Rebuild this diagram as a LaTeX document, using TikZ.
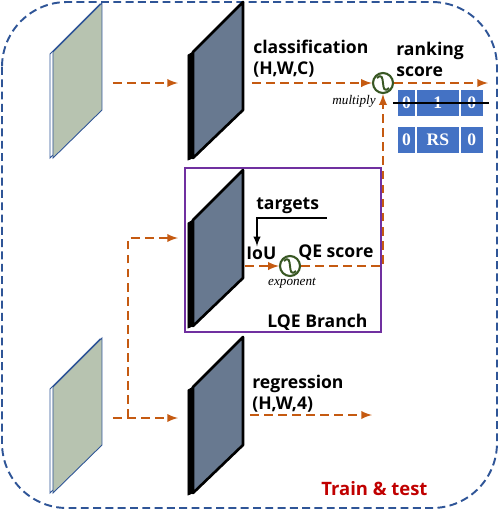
\documentclass[tikz,border=0pt]{standalone}
\usepackage{fontspec}
\setmainfont{Open Sans}
\newfontfamily\opfont{Liberation Serif}
\usetikzlibrary{arrows,positioning,calc}
\definecolor{cBorderD}{HTML}{2F5597}
\definecolor{cFlowD}{HTML}{C55A11}
\definecolor{cMapF}{HTML}{B7C3B0}
\definecolor{cFeatF}{HTML}{687990}
\definecolor{cBranchD}{HTML}{7030A0}
\definecolor{cCellF}{HTML}{4472C4}
\definecolor{cOpD}{HTML}{385723}
\definecolor{cTagT}{HTML}{C00000}
\tikzset{
  lbl/.style    = {font=\fontsize{10}{12}\selectfont\bfseries, inner sep=0pt,
                   align=left, anchor=west},
  opnote/.style = {font=\fontsize{7.5}{9}\selectfont\opfont\itshape, inner sep=0pt},
  flow/.style   = {cFlowD, line width=1.1pt, dash pattern=on 5pt off 3pt, -latex},
  border/.style = {cBorderD, line width=1.1pt, dash pattern=on 4.5pt off 2.5pt,
                   rounded corners=1.3cm},
  cell/.style   = {fill=cCellF, draw=white, line width=0.5pt, text=white,
                   font=\fontsize{10}{10}\selectfont\opfont\bfseries,
                   minimum height=0.54cm, inner sep=0pt, anchor=north west},
  op/.style     = {circle, draw=cOpD, line width=1.2pt, minimum size=0.4cm,
                   inner sep=0pt, fill=white,
                   path picture={\draw[cOpD, line width=1.1pt]
                     ($(path picture bounding box.center)+(-6,-5)$)
                     .. controls +(10,-9) and +(-10,9) ..
                     ($(path picture bounding box.center)+(6,5)$);}},
  inmap/.pic = {
    \filldraw[fill=white, draw=cBorderD, line width=0.5pt]
      (-3,2) -- (47,-48) -- (47,58) -- (-3,106) -- cycle;
    \filldraw[fill=cMapF, draw=cBorderD, line width=0.5pt]
      (0,0) -- (49,-49) -- (49,58) -- (0,106) -- cycle;
  },
  featmap/.pic = {
    \filldraw[black] (-5,3) -- (0,0) -- (0,106) -- (-5,108) -- cycle;
    \filldraw[fill=cFeatF, draw=black, line width=1.5pt, line join=round]
      (0,0) -- (50,-50) -- (50,58) -- (0,106) -- cycle;
  },
}

\begin{document}
\begin{tikzpicture}[x=0.02cm, y=-0.02cm]
  \useasboundingbox (0,0) rectangle (500,512);
  \draw[border] (2,2) rectangle (497,508);
  \draw[cBranchD, line width=1.1pt] (185,168) rectangle (381,332);
  % feature maps
  \path (53,52) pic{inmap};
  \path (53,387) pic{inmap};
  \path (193,52) pic{featmap};
  \path (193,220) pic{featmap};
  \path (193,387) pic{featmap};
  % labels
  \node[lbl] (cls) at (253,59) {classification\\(H,W,C)};
  \node[lbl] (rank) at (396,59) {ranking\\score};
  \node[lbl] (reg) at (252,394) {regression\\(H,W,4)};
  \node[lbl] (tgt) at (256,206) {targets};
  \node[lbl] (iou) at (246,253) {IoU};
  \node[lbl] (qe) at (298,253) {QE score};
  \node[lbl] (lqe) at (267,322) {LQE Branch};
  \node[lbl, text=cTagT, font=\fontsize{10.5}{12}\selectfont\bfseries] (tag) at (321,489) {Train \& test};
  % operators
  \node[op] (mul) at (383,83) {};
  \node[op] (expo) at (290,266) {};
  \node[opnote, anchor=east] at (376,101) {multiply};
  \node[opnote] at (292,283) {exponent};
  % ranking score cells
  \node[cell, minimum width=0.36cm] (r1a) at (397,89) {0};
  \node[cell, minimum width=0.86cm, right=0pt of r1a] (r1b) {1};
  \node[cell, minimum width=0.46cm, right=0pt of r1b] (r1c) {0};
  \node[cell, minimum width=0.36cm] (r2a) at (397,126) {0};
  \node[cell, minimum width=0.86cm, right=0pt of r2a] (r2b) {RS};
  \node[cell, minimum width=0.46cm, right=0pt of r2b] (r2c) {0};
  \draw[black, line width=1.1pt] ($(r1a.west)+(-4,0)$) -- ($(r1c.east)+(5,0)$);
  % flow
  \coordinate (inTop) at (113,83);
  \coordinate (clsIn) at (178,83);
  \coordinate (clsOut) at (252,83);
  \coordinate (rankOut) at (488,83);
  \coordinate (inBot) at (113,418);
  \coordinate (regIn) at (178,418);
  \coordinate (split) at (128,418);
  \coordinate (lqeIn) at (178,238);
  \coordinate (lqeOut) at (245,266);
  \coordinate (regOut) at (250,415);
  \coordinate (regEnd) at (372,415);
  \draw[flow] (inTop) -- (clsIn);
  \draw[flow] (clsOut) -- (mul.west);
  \draw[flow] (mul.east) -- (rankOut);
  \draw[flow] (inBot) -- (regIn);
  \draw[flow] (split) |- (lqeIn);
  \draw[flow] (lqeOut) -- (expo.west);
  \draw[flow] (expo.east) -| (mul.south);
  \draw[flow] (regOut) -- (regEnd);
  % targets
  \coordinate (tgtEnd) at (327,218);
  \draw[black, line width=0.9pt, -latex] (tgtEnd) -| (iou.north -| 257,0);
\end{tikzpicture}
\end{document}
